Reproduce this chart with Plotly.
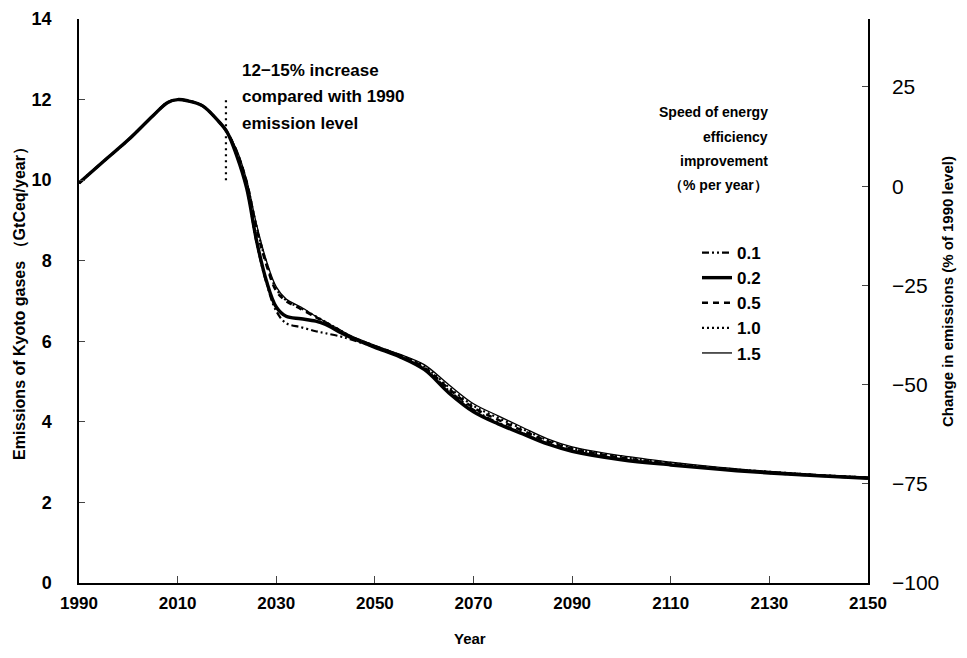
import plotly.graph_objects as go

years = [1990, 1995, 2000, 2005, 2008, 2010, 2012, 2015, 2018, 2020, 2022, 2024, 2026, 2028,
         2030, 2032, 2035, 2038, 2040, 2043, 2045, 2050, 2055, 2060, 2065, 2070, 2075, 2080,
         2085, 2090, 2100, 2110, 2120, 2130, 2140, 2150]

common = [9.93, 10.47, 11.0, 11.6, 11.93, 12.0, 11.97, 11.85, 11.5, 11.2]

s01 = common + [10.6, 9.8, 8.45, 7.45, 6.75, 6.45, 6.35, 6.25, 6.2, 6.12, 6.05, 5.85, 5.62, 5.32,
                4.78, 4.3, 3.98, 3.72, 3.47, 3.29, 3.08, 2.94, 2.83, 2.73, 2.66, 2.6]
s02 = common + [10.6, 9.8, 8.5, 7.5, 6.85, 6.62, 6.56, 6.5, 6.42, 6.22, 6.1, 5.85, 5.62, 5.3,
                4.72, 4.25, 3.95, 3.7, 3.45, 3.27, 3.06, 2.93, 2.82, 2.73, 2.66, 2.6]
s05 = common + [10.7, 9.95, 8.8, 7.9, 7.25, 7.0, 6.8, 6.6, 6.47, 6.26, 6.12, 5.88, 5.65, 5.35,
                4.82, 4.35, 4.05, 3.78, 3.52, 3.33, 3.11, 2.96, 2.84, 2.75, 2.67, 2.61]
s10 = common + [10.7, 9.95, 8.85, 7.95, 7.3, 7.02, 6.82, 6.62, 6.48, 6.27, 6.13, 5.88, 5.66, 5.38,
                4.86, 4.4, 4.1, 3.82, 3.55, 3.35, 3.13, 2.98, 2.85, 2.76, 2.68, 2.62]
s15 = common + [10.75, 10.0, 8.9, 8.0, 7.35, 7.05, 6.85, 6.62, 6.48, 6.28, 6.15, 5.9, 5.68, 5.42,
                4.92, 4.45, 4.15, 3.86, 3.58, 3.38, 3.16, 3.0, 2.87, 2.77, 2.69, 2.63]

series_names = ["0.1", "0.2", "0.5", "1.0", "1.5"]
series_values = [s01, s02, s05, s10, s15]
base_1990 = 9.85

left_ticks = [0, 2, 4, 6, 8, 10, 12, 14]
right_ticks = [-100, -75, -50, -25, 0, 25]
x_ticks = [1990, 2010, 2030, 2050, 2070, 2090, 2110, 2130, 2150]

note_x = [2019.8, 2019.8]
note_y = [10.0, 12.05]
note_lines = ["12−15% increase", "compared with 1990", "emission level"]
legend_title_lines = ["Speed of energy", "efficiency", "improvement", "（% per year）"]

styles = {
    "0.1": dict(width=2.2, dash="7px,3px,2px,3px,2px,3px"),
    "0.2": dict(width=3.4, dash="solid"),
    "0.5": dict(width=2.6, dash="6px,5px"),
    "1.0": dict(width=2.2, dash="2px,3px"),
    "1.5": dict(width=1.3, dash="solid"),
}

FONT = "Liberation Sans Narrow, Liberation Sans, Arial Narrow, sans-serif"

# geometry: the page has an 8px body margin, so the figure is drawn at (8, 8)
OFF = 8
W, H = 967 - 2 * OFF, 658 - 2 * OFF
PLOT_L, PLOT_R, PLOT_T, PLOT_B = 79, 868, 19, 583   # page pixels
ML = PLOT_L - OFF
MT = PLOT_T - OFF
MR = (OFF + W) - PLOT_R
MB = (OFF + H) - PLOT_B


def px_(x):
    return (x - PLOT_L) / (PLOT_R - PLOT_L)


def py(y):
    return (PLOT_B - y) / (PLOT_B - PLOT_T)


fig = go.Figure()
for name, vals in zip(series_names, series_values):
    fig.add_trace(go.Scatter(
        x=years, y=vals, mode="lines", name=name, line_shape="spline",
        line=dict(color="black", **styles[name]),
    ))

fig.add_trace(go.Scatter(
    x=note_x, y=note_y, mode="lines", showlegend=False, hoverinfo="skip",
    line=dict(color="black", width=2.2, dash="2px,4px"),
))

fig.add_trace(go.Scatter(
    x=years, y=[v / base_1990 * 100 - 100 for v in s02], yaxis="y2", mode="lines",
    line=dict(width=0, color="rgba(0,0,0,0)"), showlegend=False, hoverinfo="skip",
))

annotations = []
for i, t in enumerate(note_lines):
    annotations.append(dict(
        x=px_(240), y=py(70 + 26.5 * i), xref="paper", yref="paper", xanchor="left",
        yanchor="middle", text=t, showarrow=False,
        font=dict(size=17, family=FONT, weight="bold")))
for i, t in enumerate(legend_title_lines):
    annotations.append(dict(
        x=px_(770), y=py([112, 137, 161, 185][i]), xref="paper", yref="paper",
        xanchor="right", yanchor="middle", text=t, showarrow=False,
        font=dict(size=14, family=FONT, weight="bold")))
annotations += [
    dict(x=px_(470), y=py(638), xref="paper", yref="paper",
         xanchor="center", yanchor="middle", text="Year", showarrow=False,
         font=dict(size=15, family=FONT, weight="bold")),
    dict(x=px_(20), y=py(300), xref="paper", yref="paper",
         xanchor="center", yanchor="middle", textangle=-90, showarrow=False,
         text="Emissions of Kyoto gases （GtCeq/year）",
         font=dict(size=16, family=FONT, weight="bold")),
    dict(x=px_(947), y=py(292), xref="paper", yref="paper",
         xanchor="center", yanchor="middle", textangle=-90, showarrow=False,
         text="Change in emissions (% of 1990 level)",
         font=dict(size=15, family=FONT, weight="bold")),
]

fig.update_layout(
    width=W, height=H,
    margin=dict(l=ML, r=MR, t=MT, b=MB, autoexpand=False),
    paper_bgcolor="white", plot_bgcolor="white",
    font=dict(family=FONT, color="black"),
    showlegend=True,
    legend=dict(
        x=px_(697), y=py(235), xanchor="left", yanchor="top",
        bgcolor="rgba(0,0,0,0)", font=dict(size=17, family=FONT, weight="bold"),
        tracegroupgap=0, itemwidth=30,
    ),
    xaxis=dict(
        range=[1990, 2150], tickvals=x_ticks, ticks="inside", ticklen=7, tickwidth=1.2,
        showline=True, linecolor="black", linewidth=1.5, showgrid=False, zeroline=False,
        tickfont=dict(size=17, family=FONT, weight="bold"), automargin=False,
        ticklabelstandoff=4,
    ),
    yaxis=dict(
        range=[0, 14], tickvals=left_ticks, ticks="inside", ticklen=6, tickwidth=1.2,
        showline=True, linecolor="black", linewidth=1.5, showgrid=False, zeroline=False,
        tickfont=dict(size=18, family=FONT, weight="bold"), ticklabelstandoff=22,
        automargin=False,
    ),
    yaxis2=dict(
        overlaying="y", side="right", range=[-100, 14 / base_1990 * 100 - 100],
        tickvals=right_ticks, ticktext=[str(t).replace("-", "−") for t in right_ticks],
        ticks="inside", ticklen=6, tickwidth=1.2,
        showline=True, linecolor="black", linewidth=1.5, showgrid=False, zeroline=False,
        tickfont=dict(size=21, family=FONT), ticklabelstandoff=18, automargin=False,
    ),
    annotations=annotations,
)

fig.write_html("out.html")
